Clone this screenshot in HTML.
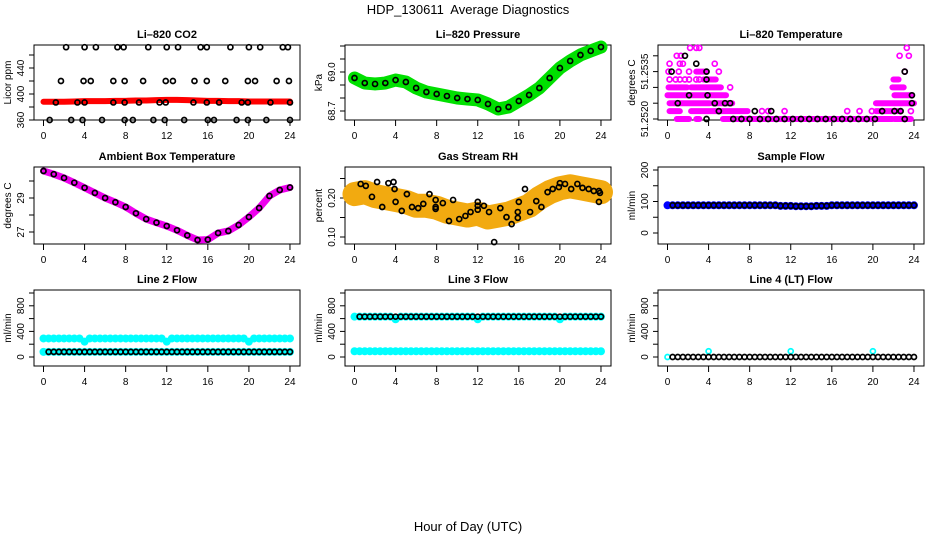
<!DOCTYPE html>
<html><head><meta charset="utf-8"><style>
html,body{margin:0;padding:0;background:#fff;}
svg{display:block;font-family:"Liberation Sans",sans-serif;}
</style></head><body>
<svg id="chart" width="936" height="540" viewBox="0 0 936 540" xmlns="http://www.w3.org/2000/svg">
<rect width="936" height="540" fill="#fff"/>
<text x="468" y="14" font-size="13" text-anchor="middle" style="white-space:pre">HDP_130611  Average Diagnostics</text>
<text x="468" y="531" font-size="13" text-anchor="middle">Hour of Day (UTC)</text>
</svg>
<script>
const xTicks=[0,4,8,12,16,20,24];
const hourly=[0,1,2,3,4,5,6,7,8,9,10,11,12,13,14,15,16,17,18,19,20,21,22,23,24];
const flowHours=[0,0.5,1,1.5,2,2.5,3,3.5,4,4.5,5,5.5,6,6.5,7,7.5,8,8.5,9,9.5,10,10.5,11,11.5,12,12.5,13,13.5,14,14.5,15,15.5,16,16.5,17,17.5,18,18.5,19,19.5,20,20.5,21,21.5,22,22.5,23,23.5,24];
// CO2
const co2RedVals=[388,388,388,388.5,389,389,389,389.5,389.5,390,390,390.5,391,391,390.5,390,389.5,389.5,389,389,388.5,388.5,388.5,388.5,388.5];
const co2PtHours=[2.2,4,5.1,7.2,7.8,10.2,12,13.1,15.3,15.9,18.2,20,21.1,23.3,23.8, 1.7,3.9,4.6,6.8,7.9,9.7,11.9,12.6,14.7,15.9,17.7,19.9,20.6,22.7,23.9, 0.6,2.7,3.8,5.7,7.9,8.7,10.7,11.8,13.7,16,16.6,18.8,19.9,21.7,24, 1.2,3.3,4,6.8,7.9,9.3,11.3,11.9,14.6,15.9,17.1,19.3,19.9,22.1,24];
const co2PtVals=[472,472,472,472,472,472,472,472,472,472,472,472,472,472,472, 420,420,420,420,420,420,420,420,420,420,420,420,420,420,420, 360,360,360,360,360,360,360,360,360,360,360,360,360,360,360, 387,387,387,387,387,387,387,387,387,387,387,387,387,387,387];
// Pressure
const pressVals=[68.954,68.915,68.908,68.915,68.938,68.923,68.877,68.846,68.831,68.815,68.8,68.792,68.785,68.754,68.715,68.731,68.777,68.823,68.877,68.954,69.031,69.085,69.131,69.162,69.192];
// Li-820 temperature (levels)
const tempSegLevel=[0,0,0,0,1,1,1,2,2,2,3,3,4,4,4,5,5,6];
const tempSegStart=[0.9,2.8,5.4,22.1,0.2,2.3,20.3,0.2,4.4,20.3,0,22.1,0.1,2.3,21.9,3.5,22,2.8];
const tempSegEnd=[2.1,3.1,21.9,23.7,1.2,7.8,22.6,4.1,6.3,24,5.7,23.8,1.9,5.2,23,4.7,22.5,3.8];
const tempPtHour=[9.2,9.8,11.4,17.5,18.7,19.9,23.7,6.1,0.2,0.8,1.2,1.7,2.1,2.8,3.1,0.1,1.1,2.1,5.0,23.1,0.2,1.2,1.5,4.6,0.9,1.3,22.6,23.5,2.2,2.8,3.1,23.3];
const tempPtLevel=[1,1,1,1,1,1,1,4,5,5,5,5,5,5,5,6,6,6,6,6,7,7,7,7,8,8,8,8,9,9,9,9];
const tempBlackHour=[1.7,2.8,0.4,3.8,3.8,2.1,3.9,1.0,4.6,5.6,6.1,5.0,8.5,10.1,3.8,6.4,7.2,8.0,9.0,9.8,10.6,11.4,12.2,13.0,13.8,14.6,15.4,16.2,17.0,17.8,18.6,19.4,20.2,23.1,20.9,22.1,22.7,23.8,23.8,23.1];
const tempBlackLevel=[8,7,6,6,5,3,3,2,2,2,2,1,1,1,0,0,0,0,0,0,0,0,0,0,0,0,0,0,0,0,0,0,0,0,1,1,1,2,3,6];
const tempTickLevels=[0,2,4,6,8];
const tempTickLabels=["51.2520","","","51.2535",""];
// Ambient box temp
const ambVals=[30.59,30.4,30.18,29.9,29.6,29.3,29.0,28.75,28.47,28.1,27.76,27.55,27.35,27.1,26.8,26.53,26.55,26.94,27.06,27.41,27.88,28.41,29.12,29.47,29.62];
// Gas stream RH
const rhBandVals=[0.21,0.215,0.205,0.2,0.195,0.19,0.18,0.18,0.175,0.165,0.16,0.155,0.16,0.15,0.155,0.16,0.17,0.18,0.2,0.215,0.225,0.23,0.225,0.22,0.215];
const rhPtHours=[0.6,1.1,1.7,2.2,2.7,3.3,3.8,3.9,4,4.6,5.1,5.6,6.2,6.7,7.3,7.9,7.9,7.9,8.6,9.2,9.6,10.2,10.8,11.3,12,12,12,12.6,13.1,13.6,14.2,14.8,15.3,15.9,15.9,16,16.6,17.1,17.7,18.2,18.8,19.3,19.9,20,20.5,21.1,21.7,22.2,22.8,23.3,23.8,23.9,23.8];
const rhPtVals=[0.236,0.231,0.203,0.241,0.177,0.238,0.241,0.223,0.19,0.167,0.21,0.177,0.174,0.185,0.21,0.195,0.177,0.172,0.187,0.141,0.195,0.146,0.154,0.164,0.19,0.18,0.17,0.18,0.164,0.087,0.174,0.151,0.133,0.149,0.164,0.19,0.223,0.164,0.192,0.177,0.215,0.223,0.228,0.238,0.236,0.223,0.236,0.226,0.223,0.218,0.218,0.213,0.19];
// Flows
const sampleVals=[88,88,88,88,88,88,88,88,88,88,88,88,88,88,88,88,88,88,88,88,88,88,86,86,86,85,85,85,85,86,86,86,88,88,88,88,88,88,88,88,88,88,88,88,88,88,88,88,88];
const l2CyanHigh=[290,290,290,290,290,290,290,290,240,290,290,290,290,290,290,290,290,290,290,290,290,290,290,290,240,290,290,290,290,290,290,290,290,290,290,290,290,290,290,290,240,290,290,290,290,290,290,290,290];
const l2Low=[80,80,80,80,80,80,80,80,80,80,80,80,80,80,80,80,80,80,80,80,80,80,80,80,80,80,80,80,80,80,80,80,80,80,80,80,80,80,80,80,80,80,80,80,80,80,80,80,80];
const l3High=[630,630,630,630,630,630,630,630,590,630,630,630,630,630,630,630,630,630,630,630,630,630,630,630,590,630,630,630,630,630,630,630,630,630,630,630,630,630,630,630,590,630,630,630,630,630,630,630,630];
const l3Black=[630,630,630,630,630,630,630,630,630,630,630,630,630,630,630,630,630,630,630,630,630,630,630,630,630,630,630,630,630,630,630,630,630,630,630,630,630,630,630,630,630,630,630,630,630,630,630,630,630];
const l3Low=[90,90,90,90,90,90,90,90,90,90,90,90,90,90,90,90,90,90,90,90,90,90,90,90,90,90,90,90,90,90,90,90,90,90,90,90,90,90,90,90,90,90,90,90,90,90,90,90,90];
const l4Black=[0,0,0,0,0,0,0,0,0,0,0,0,0,0,0,0,0,0,0,0,0,0,0,0,0,0,0,0,0,0,0,0,0,0,0,0,0,0,0,0,0,0,0,0,0,0,0,0,0];
const l4CyanHours=[0,4,12,20];
const l4CyanVals=[0,90,90,90];

const NS="http://www.w3.org/2000/svg";
const svg=document.getElementById('chart');
const colLeft=[34,345,658], rowTop=[45,167,290], rowBot=[120,244,366];
function el(tag,attrs,parent){const e=document.createElementNS(NS,tag);for(const k in attrs)e.setAttribute(k,attrs[k]);(parent||svg).appendChild(e);return e;}

function makePanel(col,row,name,title,ylab){
  const L=colLeft[col],T=rowTop[row],B=rowBot[row];
  const g=el('g',{});
  
  
  const p={g,L,T,B,x:h=>L+9.5+h*10.27,y:v=>v};
  const fr=el('rect',{x:L,y:T,width:266,height:B-T,fill:'none',stroke:'#000','stroke-width':1},g);
  
  
  const t=el('text',{x:L+133,y:T-7,'font-size':11,'font-weight':'bold','text-anchor':'middle'},g);
  t.textContent=title;
  
  
  xTicks.forEach(h=>{
    const xx=p.x(h);
    const tk=el('line',{x1:xx,y1:B,x2:xx,y2:B+6,stroke:'#000'},g);
    
    
    const tl=el('text',{x:xx,y:B+19,'font-size':10,'text-anchor':'middle'},g);
    tl.textContent=h;
    
    
  });
  const ym=(T+B)/2;
  const yl=el('text',{x:L-23,y:ym,'font-size':10,'text-anchor':'middle',transform:`rotate(-90 ${L-23} ${ym})`},g);
  yl.textContent=ylab;
  
  
  return p;
}
function yAxis(p,ticks,labels){
  ticks.forEach((v,i)=>{
    const yy=p.y(v);
    const tk=el('line',{x1:p.L-5,y1:yy,x2:p.L,y2:yy,stroke:'#000'},p.g);
    
    
    if(labels[i]){
      const t=el('text',{x:p.L-10,y:yy,'font-size':10,'text-anchor':'middle',transform:`rotate(-90 ${p.L-10} ${yy})`},p.g);
      t.textContent=labels[i];
      
      
    }
  });
}
function band(p,hours,vals,color,w,name){
  const pts=hours.map((h,i)=>p.x(h)+','+p.y(vals[i])).join(' ');
  const pl=el('polyline',{points:pts,fill:'none',stroke:color,'stroke-width':w,'stroke-linejoin':'round','stroke-linecap':'round'},p.g);
  
  
}
function dots(p,hours,vals,color,r,name,start){
  for(let i=(start||0);i<hours.length;i++){
    const c=el('circle',{cx:p.x(hours[i]),cy:p.y(vals[i]),r:r,fill:color},p.g);
    
    
  }
}
function rings(p,hours,vals,name,start,color){
  for(let i=(start||0);i<hours.length;i++){
    const c=el('circle',{cx:p.x(hours[i]),cy:p.y(vals[i]),r:2.5,fill:'none',stroke:color||'#000','stroke-width':1.7},p.g);
    
    
  }
}

// CO2
let p=makePanel(0,0,'co2','Li\u2013820 CO2','Licor ppm');
p.y=v=>120-(v-360)*0.65;
yAxis(p,[360,380,400,420,440,460],['360','','400','','440','']);
band(p,hourly,co2RedVals,'#ff0000',6,'co2-red-series');
rings(p,co2PtHours,co2PtVals,'co2-point');
// Pressure
p=makePanel(1,0,'pressure','Li\u2013820 Pressure','kPa');
p.y=v=>111-(v-68.7)*130;
yAxis(p,[68.7,68.8,68.9,69.0,69.1,69.2],['68.7','','','69.0','','']);
band(p,hourly,pressVals,'#00e000',13,'pressure-green-series');
rings(p,hourly,pressVals,'pressure-point');
// Li-820 temperature
p=makePanel(2,0,'temperature','Li\u2013820 Temperature','degrees C');
p.y=k=>119-k*7.9;
yAxis(p,tempTickLevels,tempTickLabels);
tempSegLevel.forEach((k,i)=>{
  const s=el('line',{x1:p.x(tempSegStart[i]),x2:p.x(tempSegEnd[i]),y1:p.y(k),y2:p.y(k),stroke:'#ff00ff','stroke-width':6,'stroke-linecap':'round'},p.g);
  
  
});
rings(p,tempPtHour,tempPtLevel,'temperature-magenta-point',0,'#ff00ff');
rings(p,tempBlackHour,tempBlackLevel,'temperature-point');
// Ambient
p=makePanel(0,1,'ambient','Ambient Box Temperature','degrees C');
p.y=v=>232-(v-27)*17;
yAxis(p,[27,28,29,30],['27','','29','']);
band(p,hourly,ambVals,'#ee00ee',7,'ambient-magenta-series');
rings(p,hourly,ambVals,'ambient-point');
// RH
p=makePanel(1,1,'rh','Gas Stream RH','percent');
p.y=v=>237-(v-0.10)*390;
yAxis(p,[0.10,0.15,0.20,0.25],['0.10','','0.20','']);
band(p,hourly,rhBandVals,'#f2aa10',24,'rh-orange-series');
rings(p,rhPtHours,rhPtVals,'rh-point');
// Sample flow
p=makePanel(2,1,'sample-flow','Sample Flow','ml/min');
p.y=v=>233-v*0.315;
yAxis(p,[0,50,100,150,200],['0','','100','','200']);
dots(p,flowHours,sampleVals,'#0000ff',4,'sample-blue-point');
rings(p,flowHours,sampleVals,'sample-point',1);
// Line flows
function flowPanel(col,name,title){
  const q=makePanel(col,2,name,title,'ml/min');
  q.y=v=>357-v*0.064;
  yAxis(q,[0,200,400,600,800,1000],['0','','400','','800','']);
  return q;
}
p=flowPanel(0,'line2-flow','Line 2 Flow');
dots(p,flowHours,l2CyanHigh,'#00ffff',4,'line2-cyan-point');
dots(p,flowHours,l2Low,'#00ffff',4,'line2-cyan-low-point');
rings(p,flowHours,l2Low,'line2-point',1);
p=flowPanel(1,'line3-flow','Line 3 Flow');
dots(p,flowHours,l3High,'#00ffff',4,'line3-cyan-point');
dots(p,flowHours,l3Low,'#00ffff',4,'line3-cyan-low-point');
rings(p,flowHours,l3Black,'line3-point',1);
p=flowPanel(2,'line4-flow','Line 4 (LT) Flow');
rings(p,l4CyanHours,l4CyanVals,'line4-cyan-point',0,'#00ffff');
rings(p,flowHours,l4Black,'line4-point',1);
</script>
</body></html>
